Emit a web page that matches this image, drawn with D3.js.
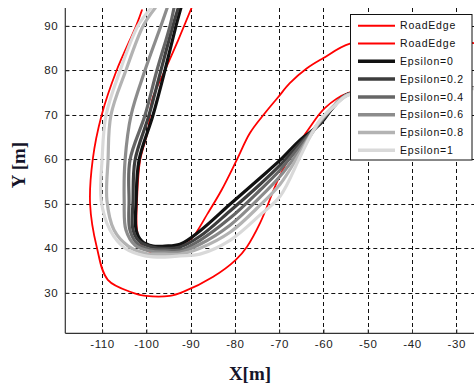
<!DOCTYPE html>
<html><head><meta charset="utf-8">
<script src="https://cdn.jsdelivr.net/npm/d3@7"></script>
<style>body{margin:0;background:#fff}svg{display:block}</style>
</head><body>
<svg id="c" width="474" height="385"></svg>
<script>
const xTicks = [-110,-100,-90,-80,-70,-60,-50,-40,-30];
const yTicks = [30,40,50,60,70,80,90];
const seriesNames = ["RoadEdge","RoadEdge","Epsilon=0","Epsilon=0.2","Epsilon=0.4","Epsilon=0.6","Epsilon=0.8","Epsilon=1"];
const seriesColors = ["#ff0000","#ff0000","#111111","#3d3d3d","#666666","#8c8c8c","#b3b3b3","#d9d9d9"];

const outerEdgeX = [-101.0,-102.3,-106.7,-110.1,-112.1,-112.7,-111.2,-108.7,-103.0,-100.1,-94.7,-91.7,-84.9,-79.8,-77.3,-74.3,-70.3,-67.6,-63.5,-59.7,-54.5,-42.7,-26.0];
const outerEdgeY = [93.5,90.0,80.0,69.9,60.0,49.9,40.3,32.9,30.0,29.3,29.3,30.2,33.6,37.4,40.3,45.7,55.3,60.5,66.6,71.5,74.9,76.0,76.2];
const innerEdgeX = [-89.8,-92.8,-95.8,-98.7,-99.6,-101.4,-102.1,-102.1,-101.2,-99.2,-94.7,-91.7,-89.7,-86.1,-83.0,-79.6,-76.6,-73.2,-70.2,-67.6,-63.8,-60.1,-54.0,-42.7,-33.7,-26.0];
const innerEdgeY = [94.0,86.8,80.0,73.3,66.6,59.8,50.8,44.1,40.9,39.2,39.4,41.1,42.3,47.9,53.1,59.8,65.9,70.4,74.0,77.1,80.4,82.7,86.0,86.8,86.8,86.1];

const eps0X  = [-92.2,-93.3,-95.8,-98.5,-101.65,-102.3,-102.3,-101.0,-98.5,-95.8,-92.4,-87.9,-81.1,-74.3,-69.8,-65.3,-60.8,-57.4,-54.5,-42.7,-26.0];
const eps0Y  = [94.0,90.0,80.0,69.9,59.8,50.8,44.1,41.6,40.5,40.5,40.9,43.9,49.9,55.8,59.8,64.3,67.9,72.2,74.6,75.8,76.0];
const eps02X = [-92.8,-94.0,-96.7,-99.4,-102.55,-103.0,-103.0,-101.4,-98.7,-95.8,-92.4,-87.9,-81.1,-74.3,-69.8,-65.3,-60.8,-57.4,-54.5,-42.7,-26.0];
const eps02Y = [94.0,90.0,80.0,69.9,59.8,50.8,44.1,41.4,40.3,40.0,40.3,42.7,48.4,54.4,58.7,63.6,68.1,72.2,74.6,75.8,76.0];
const eps04X = [-93.75,-94.65,-97.6,-100.3,-103.7,-103.9,-103.7,-101.9,-99.2,-95.8,-92.4,-87.9,-81.1,-74.3,-69.8,-65.3,-60.8,-57.4,-54.5,-42.7,-26.0];
const eps04Y = [94.0,90.0,80.0,69.9,59.8,50.8,44.1,40.9,39.8,39.6,39.6,41.8,46.8,53.1,57.6,63.0,68.4,72.2,74.6,75.8,76.0];
const eps06X = [-95.3,-96.7,-100.3,-103.45,-104.8,-105.0,-104.6,-102.55,-99.2,-95.8,-92.4,-87.9,-81.1,-74.3,-69.8,-65.3,-60.8,-57.4,-54.5,-42.7,-26.0];
const eps06Y = [94.0,90.0,80.0,69.9,59.8,50.8,44.1,40.7,39.4,39.15,39.15,40.9,45.2,51.5,56.2,62.1,68.4,72.2,74.5,75.8,76.0];
const eps08X = [-98.0,-100.7,-104.6,-108.0,-108.65,-108.9,-107.3,-104.1,-100.3,-95.8,-92.4,-87.9,-81.1,-74.3,-69.8,-65.3,-60.8,-57.4,-54.5,-42.7,-26.0];
const eps08Y = [94.0,90.0,80.0,69.9,59.8,50.8,44.1,40.5,38.9,38.7,38.7,40.0,43.6,49.7,54.4,61.4,68.6,72.2,74.5,75.8,76.0];
const eps1X  = [-98.9,-101.9,-105.9,-109.1,-110.0,-110.2,-108.2,-104.8,-100.3,-95.8,-92.4,-87.9,-81.1,-74.3,-69.8,-65.3,-63.05,-60.8,-57.4,-54.5,-42.7,-26.0];
const eps1Y  = [94.0,90.0,80.0,69.9,59.8,50.8,44.1,40.0,38.3,38.0,38.3,38.7,41.8,47.5,51.7,60.5,65.0,68.8,72.1,74.4,75.7,75.9];

const seriesX = [outerEdgeX, innerEdgeX, eps0X, eps02X, eps04X, eps06X, eps08X, eps1X];
const seriesY = [outerEdgeY, innerEdgeY, eps0Y, eps02Y, eps04Y, eps06Y, eps08Y, eps1Y];

const svg = d3.select("#c");
const L = 65.3, R = 474, T = 8, B = 333.3;
const x = d3.scaleLinear().domain([-118.3, -26]).range([L, R]);
const y = d3.scaleLinear().domain([20.9, 94]).range([B, T]);

svg.append("defs").append("clipPath").attr("id","clip")
  .append("rect").attr("x",L).attr("y",T).attr("width",R-L).attr("height",B-T);

// grid
const grid = svg.append("g").attr("stroke","#111").attr("stroke-width",1).attr("stroke-dasharray","4,3");
grid.selectAll(".gx").data(xTicks).join("line")
  .attr("x1",d=>Math.round(x(d))+0.5).attr("x2",d=>Math.round(x(d))+0.5).attr("y1",T).attr("y2",B);
grid.selectAll(".gy").data(yTicks).join("line")
  .attr("y1",d=>Math.round(y(d))+0.5).attr("y2",d=>Math.round(y(d))+0.5).attr("x1",L).attr("x2",R);

// series
const line = d3.line().curve(d3.curveCatmullRom.alpha(0.5));
const plot = svg.append("g").attr("clip-path","url(#clip)");
seriesX.forEach((xs,i)=>{
  const pts = xs.map((v,j)=>[x(v), y(seriesY[i][j])]);
  plot.append("path").attr("d", line(pts)).attr("fill","none")
    .attr("stroke", seriesColors[i]).attr("stroke-width", i<2 ? 1.8 : 3.2)
    .attr("stroke-linejoin","round").attr("stroke-linecap","round");
});

// axes
const fontTick = "'Liberation Sans', Arial, sans-serif";
const xa = svg.append("g").attr("transform",`translate(0,${B})`)
  .call(d3.axisBottom(x).tickValues(xTicks).tickSize(-4).tickPadding(7).tickFormat(d=>d));
const ya = svg.append("g").attr("transform",`translate(${L},0)`)
  .call(d3.axisLeft(y).tickValues(yTicks).tickSize(-4).tickPadding(7).tickFormat(d=>d));
[xa,ya].forEach(a=>{
  a.select(".domain").remove();
  a.selectAll("line").attr("stroke","#333");
  a.selectAll("text").attr("fill","#222").style("font-family",fontTick).style("font-size","11.5px").style("letter-spacing","0.6px");
});
svg.append("line").attr("x1",L).attr("x2",R).attr("y1",B).attr("y2",B).attr("stroke","#333").attr("stroke-width",1.2);
svg.append("line").attr("x1",L).attr("x2",L).attr("y1",T).attr("y2",B).attr("stroke","#333").attr("stroke-width",1.2);

// axis labels
svg.append("text").attr("x",250).attr("y",380).attr("text-anchor","middle")
  .style("font-family","'Liberation Serif','Times New Roman',serif").style("font-weight","bold").style("font-size","19px")
  .attr("fill","#15152a").text("X[m]");
svg.append("text").attr("transform","translate(25,165) rotate(-90)").attr("text-anchor","middle")
  .style("font-family","'Liberation Serif','Times New Roman',serif").style("font-weight","bold").style("font-size","19px")
  .attr("fill","#15152a").text("Y [m]");

// legend
const lg = svg.append("g");
lg.append("rect").attr("x",350.5).attr("y",14.5).attr("width",121.5).attr("height",145.5)
  .attr("fill","#fff").attr("stroke","#111").attr("stroke-width",1);
seriesNames.forEach((n,i)=>{
  const yy = 25.7 + i*17.8;
  lg.append("line").attr("x1",358).attr("x2",395).attr("y1",yy).attr("y2",yy)
    .attr("stroke",seriesColors[i]).attr("stroke-width", i<2 ? 2 : 3.5);
  lg.append("text").attr("x",400).attr("y",yy).attr("dy","0.35em").text(n)
    .attr("fill","#111").style("font-family",fontTick).style("font-size","10.5px").style("letter-spacing","0.8px");
});
</script>
</body></html>
